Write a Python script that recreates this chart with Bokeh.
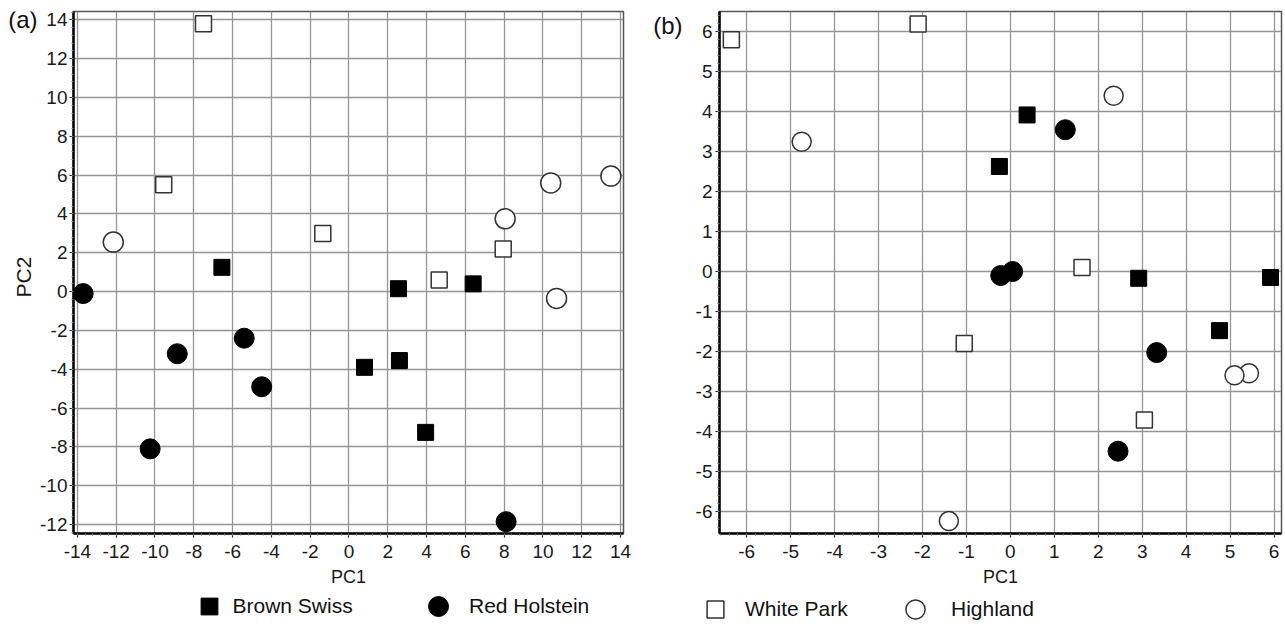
import math
import numpy as np
from bokeh.plotting import figure
from bokeh.layouts import row, column
from bokeh.models import (Range1d, SingleIntervalTicker, Label, Legend, LegendItem,
                          CustomJSTickFormatter)
from bokeh.embed import file_html
from bokeh.resources import INLINE

# ---------------- data ----------------
# Panel (a)
a_brown_swiss_x = [-6.55, 2.55, 6.4, 0.8, 2.6, 3.95]
a_brown_swiss_y = [1.25, 0.15, 0.4, -3.9, -3.55, -7.25]
a_red_holstein_x = [-13.7, -8.85, -5.4, -4.5, -10.25, 8.1]
a_red_holstein_y = [-0.1, -3.2, -2.4, -4.9, -8.1, -11.85]
a_white_park_x = [-7.5, -9.55, -1.35, 7.95, 4.65]
a_white_park_y = [13.8, 5.5, 3.0, 2.2, 0.6]
a_highland_x = [-12.15, 10.4, 13.5, 8.05, 10.7]
a_highland_y = [2.55, 5.6, 5.95, 3.75, -0.35]

# Panel (b)
b_brown_swiss_x = [0.38, -0.25, 2.92, 5.92, 4.76]
b_brown_swiss_y = [3.92, 2.63, -0.17, -0.15, -1.48]
b_red_holstein_x = [1.25, -0.22, 0.05, 3.33, 2.45]
b_red_holstein_y = [3.55, -0.1, 0.0, -2.03, -4.5]
b_white_park_x = [-6.35, -2.1, 1.63, -1.05, 3.05]
b_white_park_y = [5.8, 6.2, 0.1, -1.8, -3.72]
b_highland_x = [-4.75, 2.35, 5.43, 5.1, -1.4]
b_highland_y = [3.25, 4.4, -2.55, -2.6, -6.25]

breeds = ["Brown Swiss", "Red Holstein", "White Park", "Highland"]
panel_labels = ["(a)", "(b)"]
axis_x_label = "PC1"
axis_y_label = "PC2"

FONT = "Liberation Sans"
H_MAIN = 594
H_LEG = 28
BORDER_TOP = 11
BORDER_BOTTOM = H_MAIN - 533


def style(p, interval, standoff_y):
    fmt = CustomJSTickFormatter(code="return tick.toFixed(0);")
    for ax in (p.xaxis[0], p.yaxis[0]):
        ax.ticker = SingleIntervalTicker(interval=interval, num_minor_ticks=5)
        ax.formatter = fmt
        ax.axis_line_color = "black"
        ax.axis_line_width = 2.5
        ax.major_tick_line_color = "#222222"
        ax.major_tick_line_width = 1.2
        ax.major_tick_out = 4
        ax.major_tick_in = 0
        ax.minor_tick_line_color = "#777777"
        ax.minor_tick_out = 2
        ax.minor_tick_in = 0
        ax.major_label_text_font = FONT
        ax.major_label_text_font_size = "19px"
        ax.major_label_text_color = "#1a1a1a"
        ax.axis_label_text_font = FONT
        ax.axis_label_text_font_size = "18px"
        ax.axis_label_text_font_style = "normal"
        ax.axis_label_text_color = "#1a1a1a"
    p.xaxis[0].major_label_standoff = 7
    p.xaxis[0].axis_label_standoff = 6
    p.xaxis[0].axis_label = axis_x_label
    p.yaxis[0].major_label_standoff = standoff_y
    for g in (p.xgrid[0], p.ygrid[0]):
        g.grid_line_color = "#959595"
        g.grid_line_width = 1.3
    p.xgrid[0].ticker = p.xaxis[0].ticker
    p.ygrid[0].ticker = p.yaxis[0].ticker
    p.outline_line_color = "#555555"
    p.outline_line_width = 1.5
    p.background_fill_color = "white"
    p.border_fill_color = "white"


def add_points(p, bsx, bsy, rhx, rhy, wpx, wpy, hlx, hly, hl_size):
    p.scatter(bsx, bsy, marker="square", size=16, fill_color="black", line_color="black")
    p.scatter(rhx, rhy, marker="circle", size=20, fill_color="black", line_color="black")
    p.scatter(wpx, wpy, marker="square", size=16, fill_color="white", line_color="#333333", line_width=1.5)
    p.scatter(hlx, hly, marker="circle", size=hl_size, fill_color="white", line_color="#333333", line_width=1.5)


def strip(width, y_range):
    s = figure(width=width, height=H_MAIN, output_backend="svg", toolbar_location=None,
               x_range=Range1d(0, 1), y_range=y_range, x_axis_type=None, y_axis_type=None,
               min_border_left=0, min_border_right=0, min_border_top=BORDER_TOP,
               min_border_bottom=BORDER_BOTTOM)
    s.outline_line_color = None
    s.background_fill_color = "white"
    s.border_fill_color = "white"
    return s


# ---------------- panel (a) ----------------
ya = Range1d(-12.46, 14.43)
pa = figure(width=603, height=H_MAIN, output_backend="svg", toolbar_location=None,
            x_range=Range1d(-14.2, 14.15), y_range=ya,
            min_border_left=34, min_border_right=17, min_border_top=BORDER_TOP,
            min_border_bottom=BORDER_BOTTOM)
style(pa, 2, 2)
add_points(pa, a_brown_swiss_x, a_brown_swiss_y, a_red_holstein_x, a_red_holstein_y,
           a_white_park_x, a_white_park_y, a_highland_x, a_highland_y, 20)

sa = strip(37, ya)
sa.add_layout(Label(x=1, y=14, x_offset=0, text=panel_labels[0], text_align="right",
                    text_baseline="middle", text_font=FONT, text_font_size="24px",
                    text_color="#111111"))
sa.add_layout(Label(x=0.62, y=0.75, angle=math.pi / 2, text=axis_y_label, text_align="center",
                    text_baseline="middle", text_font=FONT, text_font_size="21px",
                    text_color="#1a1a1a"))

# ---------------- panel (b) ----------------
yb = Range1d(-6.56, 6.51)
pb = figure(width=592, height=H_MAIN, output_backend="svg", toolbar_location=None,
            x_range=Range1d(-6.62, 6.17), y_range=yb,
            min_border_left=24, min_border_right=3, min_border_top=BORDER_TOP,
            min_border_bottom=BORDER_BOTTOM)
style(pb, 1, 3)
add_points(pb, b_brown_swiss_x, b_brown_swiss_y, b_red_holstein_x, b_red_holstein_y,
           b_white_park_x, b_white_park_y, b_highland_x, b_highland_y, 19)

sb = strip(52, yb)
sb.add_layout(Label(x=1, y=6.16, x_offset=-10, text=panel_labels[1], text_align="right",
                    text_baseline="middle", text_font=FONT, text_font_size="24px",
                    text_color="#111111"))

# ---------------- legend strip ----------------
lg = figure(width=1284, height=H_LEG, output_backend="svg", toolbar_location=None,
            x_range=Range1d(0, 1), y_range=Range1d(0, 1), x_axis_type=None, y_axis_type=None,
            min_border_left=0, min_border_right=0, min_border_top=0, min_border_bottom=0)
lg.outline_line_color = None
lg.background_fill_color = "white"
lg.border_fill_color = "white"

nan = np.array([np.nan])
leg_r = [
    lg.scatter(x=nan, y=nan, marker="square", fill_color="black", line_color="black"),
    lg.scatter(x=nan, y=nan, marker="circle", fill_color="black", line_color="black"),
    lg.scatter(x=nan, y=nan, marker="square", fill_color="white", line_color="#333333", line_width=1.5),
    lg.scatter(x=nan, y=nan, marker="circle", fill_color="white", line_color="#333333", line_width=1.5),
]
leg_x = [187.5, 413, 694, 891]
leg_glyph = [42, 50, 42, 48]
leg_standoff = [3, 6, 9, 12]
leg_center = [12, 12, 15, 15]
for name, r, vx, g, so, c in zip(breeds, leg_r, leg_x, leg_glyph, leg_standoff, leg_center):
    legend = Legend(items=[LegendItem(label=name, renderers=[r])],
                    location=(vx, H_LEG - c - g / 2), orientation="horizontal",
                    glyph_width=g, glyph_height=g, label_standoff=so,
                    padding=0, margin=0, spacing=0,
                    label_text_font=FONT, label_text_font_size="21px",
                    label_text_color="#111111",
                    background_fill_alpha=0, border_line_alpha=0)
    lg.add_layout(legend, "center")

layout = column(row(sa, pa, sb, pb), lg)
open("out.html", "w").write(file_html(layout, INLINE))
